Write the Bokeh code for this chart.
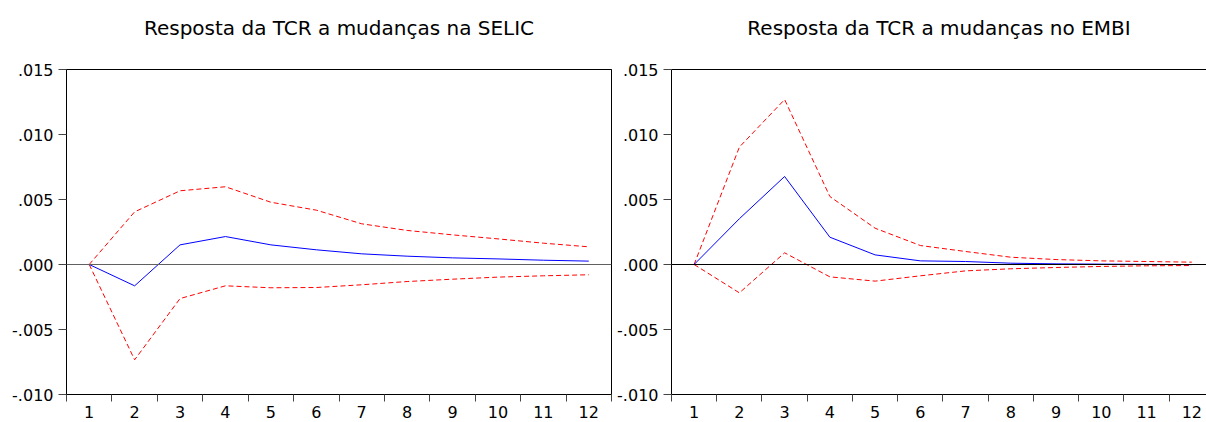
from bokeh.plotting import figure
from bokeh.layouts import row
from bokeh.models import (ColumnDataSource, FixedTicker, LinearAxis, Span,
                          CustomJSTickFormatter, Range1d)
from bokeh.embed import file_html
from bokeh.resources import INLINE

# Impulse-response horizons (periods)
horizons = list(range(1, 13))

# Response of TCR to a SELIC shock, with +/- 2 s.e. bands
selic_resp = [0.0, -0.00164, 0.00151, 0.00215, 0.00151, 0.00113,
              0.00082, 0.00064, 0.00051, 0.00043, 0.00033, 0.00026]
selic_upper = [0.0, 0.00405, 0.00567, 0.00598, 0.00479, 0.00418,
               0.00313, 0.00262, 0.00228, 0.00197, 0.00164, 0.00136]
selic_lower = [0.0, -0.00733, -0.00262, -0.00164, -0.00179, -0.00177,
               -0.00156, -0.00131, -0.00113, -0.00097, -0.00087, -0.00079]

# Response of TCR to an EMBI shock, with +/- 2 s.e. bands
embi_resp = [0.0, 0.00352, 0.00677, 0.00210, 0.00074, 0.00028,
             0.00023, 0.00010, 0.00005, 0.00003, 0.00001, -0.00001]
embi_upper = [0.0, 0.00903, 0.01269, 0.00523, 0.00279, 0.00146,
              0.00100, 0.00056, 0.00038, 0.00028, 0.00023, 0.00018]
embi_lower = [0.0, -0.00218, 0.00090, -0.00095, -0.00128, -0.00087,
              -0.00049, -0.00033, -0.00023, -0.00015, -0.00010, -0.00008]

titles = ["Resposta da TCR a mudanças na SELIC",
          "Resposta da TCR a mudanças no EMBI"]

y_tick_values = [-0.010, -0.005, 0.000, 0.005, 0.010, 0.015]
y_tick_labels = ["-.010", "-.005", ".000", ".005", ".010", ".015"]

FONT = "DejaVu Sans"
TICK_SIZE = "16px"
TITLE_SIZE = "20px"


def make_panel(title, resp, upper, lower, width, border_left, border_right,
               x_end, zero_color, full_outline):
    p = figure(width=width, height=422, output_backend="svg",
               toolbar_location=None, tools="",
               x_range=Range1d(0.5, x_end), y_range=Range1d(-0.010, 0.015),
               x_axis_type=None, y_axis_type=None,
               min_border_left=border_left, min_border_right=border_right,
               min_border_top=69, min_border_bottom=28)
    p.background_fill_color = "white"
    p.border_fill_color = "white"
    p.grid.visible = False

    # y axis
    yax = LinearAxis(
        ticker=FixedTicker(ticks=y_tick_values),
        formatter=CustomJSTickFormatter(
            args=dict(vals=y_tick_values, labs=y_tick_labels),
            code="""
            for (let i = 0; i < vals.length; i++) {
                if (Math.abs(vals[i] - tick) < 1e-9) { return labs[i]; }
            }
            return "";
            """),
        major_tick_out=8, major_tick_in=0,
        minor_tick_out=0, minor_tick_in=0,
        major_label_standoff=5,
        major_label_text_font=FONT,
        major_label_text_font_size=TICK_SIZE,
        major_label_text_color="black",
        axis_line_color="black",
        major_tick_line_color="#444444",
    )
    p.add_layout(yax, "left")

    # x axis: labels at integer horizons, tick marks between them
    xax = LinearAxis(
        ticker=FixedTicker(ticks=horizons,
                           minor_ticks=[h - 0.5 for h in horizons] + [12.5]),
        major_tick_out=0, major_tick_in=0,
        minor_tick_out=7, minor_tick_in=0,
        major_label_standoff=4,
        major_label_text_font=FONT,
        major_label_text_font_size=TICK_SIZE,
        major_label_text_color="black",
        axis_line_color="black",
        minor_tick_line_color="#444444",
    )
    p.add_layout(xax, "below")

    # top rule of the frame, carrying the panel heading as its label
    top = LinearAxis(ticker=FixedTicker(ticks=[]),
                     major_label_text_font_size="0px",
                     major_label_standoff=0,
                     major_tick_out=0, major_tick_in=0,
                     minor_tick_out=0, minor_tick_in=0,
                     axis_line_color="black",
                     axis_label=title,
                     axis_label_standoff=30,
                     axis_label_text_font=FONT,
                     axis_label_text_font_size=TITLE_SIZE,
                     axis_label_text_font_style="normal",
                     axis_label_text_color="black")
    p.add_layout(top, "above")

    if full_outline:
        p.outline_line_color = "black"
        p.outline_line_width = 1
    else:
        p.outline_line_color = None

    p.add_layout(Span(location=0, dimension="width",
                      line_color=zero_color, line_width=1))

    src = ColumnDataSource(dict(h=horizons, resp=resp, up=upper, lo=lower))
    p.line("h", "up", source=src, line_color="#ff0000", line_width=1,
           line_dash="5 3")
    p.line("h", "lo", source=src, line_color="#ff0000", line_width=1,
           line_dash="5 3")
    p.line("h", "resp", source=src, line_color="#0000ff", line_width=1)
    return p


p1 = make_panel(titles[0], selic_resp, selic_upper, selic_lower,
                width=614, border_left=66, border_right=3, x_end=12.5,
                zero_color="#606060", full_outline=True)
p2 = make_panel(titles[1], embi_resp, embi_upper, embi_lower,
                width=592, border_left=55, border_right=0, x_end=12.324,
                zero_color="black", full_outline=False)

layout = row(p1, p2)
open("out.html", "w").write(file_html(layout, INLINE))
